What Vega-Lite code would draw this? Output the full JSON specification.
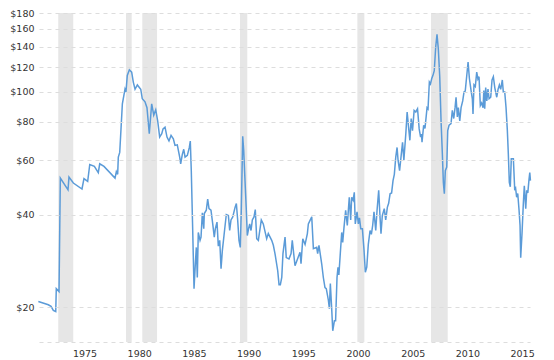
{
  "$schema": "https://vega.github.io/schema/vega-lite/v6.json",
  "width": 491,
  "height": 329,
  "autosize": "none",
  "padding": {"left": 39, "top": 13, "right": 24, "bottom": 18},
  "background": "white",
  "config": {
    "view": {"stroke": null},
    "axis": {"labelFont": "DejaVu Sans", "labelFontSize": 9.5, "labelColor": "#333"}
  },
  "layer": [
    {
      "data": {"values": [
        {"start": 1972.6, "end": 1973.97},
        {"start": 1978.79, "end": 1979.31},
        {"start": 1980.28, "end": 1981.63},
        {"start": 1989.21, "end": 1989.88},
        {"start": 1999.94, "end": 2000.58},
        {"start": 2006.67, "end": 2008.2}
      ]},
      "mark": {"type": "rect", "color": "#e6e6e6"},
      "encoding": {
        "x": {"field": "start", "type": "quantitative", "scale": {"domain": [1970.84, 2015.72], "nice": false, "zero": false}},
        "x2": {"field": "end"}
      }
    },
    {
      "data": {"values": [
        {"year": 1970.78, "price": 20.9}, {"year": 1971.69, "price": 20.4}, {"year": 1971.94, "price": 20.15},
        {"year": 1972.15, "price": 19.56}, {"year": 1972.37, "price": 19.4}, {"year": 1972.42, "price": 23.0},
        {"year": 1972.67, "price": 22.5}, {"year": 1972.79, "price": 52.5}, {"year": 1973.49, "price": 48.1},
        {"year": 1973.58, "price": 52.9}, {"year": 1973.98, "price": 50.6}, {"year": 1974.77, "price": 48.4},
        {"year": 1974.95, "price": 52.3}, {"year": 1975.29, "price": 51.2}, {"year": 1975.48, "price": 58.1},
        {"year": 1975.9, "price": 57.3}, {"year": 1976.26, "price": 54.7}, {"year": 1976.39, "price": 58.4},
        {"year": 1976.78, "price": 57.3}, {"year": 1977.79, "price": 52.5}, {"year": 1977.91, "price": 55.1},
        {"year": 1978.03, "price": 54.0}, {"year": 1978.09, "price": 61.4}, {"year": 1978.22, "price": 63.6},
        {"year": 1978.46, "price": 91.4}, {"year": 1978.7, "price": 102.0}, {"year": 1978.79, "price": 99.9},
        {"year": 1978.91, "price": 112.9}, {"year": 1979.1, "price": 117.8}, {"year": 1979.31, "price": 115.8},
        {"year": 1979.46, "price": 107.5}, {"year": 1979.62, "price": 101.9}, {"year": 1979.83, "price": 105.2},
        {"year": 1980.14, "price": 101.9}, {"year": 1980.28, "price": 94.9}, {"year": 1980.53, "price": 92.8},
        {"year": 1980.71, "price": 88.8}, {"year": 1980.92, "price": 73.1}, {"year": 1981.14, "price": 91.4},
        {"year": 1981.33, "price": 84.0}, {"year": 1981.51, "price": 87.4}, {"year": 1981.69, "price": 80.4},
        {"year": 1981.87, "price": 71.3}, {"year": 1982.06, "price": 73.1}, {"year": 1982.18, "price": 75.8},
        {"year": 1982.36, "price": 76.8}, {"year": 1982.54, "price": 71.3}, {"year": 1982.72, "price": 69.3},
        {"year": 1982.91, "price": 72.2}, {"year": 1983.12, "price": 70.4}, {"year": 1983.27, "price": 67.0},
        {"year": 1983.48, "price": 67.3}, {"year": 1983.7, "price": 61.4}, {"year": 1983.79, "price": 58.4},
        {"year": 1983.94, "price": 62.7}, {"year": 1984.07, "price": 65.1}, {"year": 1984.19, "price": 61.4},
        {"year": 1984.4, "price": 62.2}, {"year": 1984.58, "price": 66.0}, {"year": 1984.67, "price": 69.2},
        {"year": 1984.76, "price": 55.5}, {"year": 1984.89, "price": 35.5}, {"year": 1985.01, "price": 23.0},
        {"year": 1985.13, "price": 27.7}, {"year": 1985.22, "price": 31.3}, {"year": 1985.31, "price": 25.0},
        {"year": 1985.4, "price": 35.0}, {"year": 1985.56, "price": 33.0}, {"year": 1985.65, "price": 33.8},
        {"year": 1985.77, "price": 40.5}, {"year": 1985.9, "price": 36.0}, {"year": 1985.95, "price": 40.3},
        {"year": 1986.13, "price": 41.3}, {"year": 1986.26, "price": 44.9}, {"year": 1986.38, "price": 41.8},
        {"year": 1986.56, "price": 41.3}, {"year": 1986.72, "price": 37.3}, {"year": 1986.86, "price": 33.8},
        {"year": 1986.96, "price": 36.0}, {"year": 1987.11, "price": 37.8}, {"year": 1987.23, "price": 31.6},
        {"year": 1987.36, "price": 33.0}, {"year": 1987.48, "price": 26.7}, {"year": 1987.6, "price": 30.6},
        {"year": 1987.75, "price": 34.2}, {"year": 1987.96, "price": 40.0}, {"year": 1988.15, "price": 39.7},
        {"year": 1988.27, "price": 35.5}, {"year": 1988.39, "price": 38.4}, {"year": 1988.55, "price": 39.3},
        {"year": 1988.76, "price": 42.2}, {"year": 1988.88, "price": 43.4}, {"year": 1989.0, "price": 38.4},
        {"year": 1989.12, "price": 33.0}, {"year": 1989.24, "price": 31.3}, {"year": 1989.33, "price": 41.3},
        {"year": 1989.46, "price": 71.7}, {"year": 1989.55, "price": 64.6}, {"year": 1989.67, "price": 51.5},
        {"year": 1989.79, "price": 41.3}, {"year": 1989.88, "price": 34.2}, {"year": 1990.0, "price": 36.0},
        {"year": 1990.1, "price": 37.3}, {"year": 1990.22, "price": 35.5}, {"year": 1990.34, "price": 38.4},
        {"year": 1990.49, "price": 39.3}, {"year": 1990.61, "price": 41.5}, {"year": 1990.74, "price": 33.4},
        {"year": 1990.89, "price": 33.0}, {"year": 1991.16, "price": 38.4}, {"year": 1991.34, "price": 37.3},
        {"year": 1991.65, "price": 33.4}, {"year": 1991.8, "price": 34.7}, {"year": 1992.11, "price": 33.0},
        {"year": 1992.26, "price": 31.8}, {"year": 1992.41, "price": 29.9}, {"year": 1992.66, "price": 26.3},
        {"year": 1992.78, "price": 23.7}, {"year": 1992.9, "price": 23.7}, {"year": 1993.03, "price": 25.0},
        {"year": 1993.14, "price": 29.9}, {"year": 1993.33, "price": 33.8}, {"year": 1993.44, "price": 29.0},
        {"year": 1993.69, "price": 28.7}, {"year": 1993.88, "price": 29.9}, {"year": 1993.99, "price": 33.0},
        {"year": 1994.24, "price": 27.3}, {"year": 1994.36, "price": 28.0}, {"year": 1994.7, "price": 30.2},
        {"year": 1994.79, "price": 27.7}, {"year": 1994.95, "price": 33.4}, {"year": 1995.16, "price": 32.0},
        {"year": 1995.37, "price": 34.7}, {"year": 1995.46, "price": 37.3}, {"year": 1995.77, "price": 39.3},
        {"year": 1995.92, "price": 31.0}, {"year": 1996.22, "price": 31.3}, {"year": 1996.31, "price": 29.9},
        {"year": 1996.43, "price": 31.8}, {"year": 1996.68, "price": 27.7}, {"year": 1996.83, "price": 25.0},
        {"year": 1996.98, "price": 23.2}, {"year": 1997.1, "price": 23.0}, {"year": 1997.29, "price": 21.1},
        {"year": 1997.38, "price": 19.8}, {"year": 1997.47, "price": 23.9}, {"year": 1997.6, "price": 19.6},
        {"year": 1997.69, "price": 16.8}, {"year": 1997.84, "price": 18.1}, {"year": 1997.95, "price": 18.1},
        {"year": 1998.08, "price": 25.0}, {"year": 1998.17, "price": 27.0}, {"year": 1998.25, "price": 25.5},
        {"year": 1998.38, "price": 29.9}, {"year": 1998.51, "price": 35.0}, {"year": 1998.6, "price": 32.5},
        {"year": 1998.72, "price": 36.4}, {"year": 1998.87, "price": 41.3}, {"year": 1999.02, "price": 36.9},
        {"year": 1999.2, "price": 45.5}, {"year": 1999.33, "price": 38.4}, {"year": 1999.42, "price": 45.5},
        {"year": 1999.55, "price": 44.5}, {"year": 1999.66, "price": 47.2}, {"year": 1999.75, "price": 37.3},
        {"year": 1999.91, "price": 40.8}, {"year": 2000.03, "price": 37.3}, {"year": 2000.13, "price": 39.0},
        {"year": 2000.25, "price": 36.0}, {"year": 2000.4, "price": 36.0}, {"year": 2000.55, "price": 30.6},
        {"year": 2000.67, "price": 26.0}, {"year": 2000.8, "price": 27.0}, {"year": 2000.94, "price": 32.0},
        {"year": 2001.1, "price": 35.5}, {"year": 2001.22, "price": 34.5}, {"year": 2001.34, "price": 36.9},
        {"year": 2001.46, "price": 40.8}, {"year": 2001.62, "price": 35.5}, {"year": 2001.74, "price": 41.3},
        {"year": 2001.89, "price": 47.9}, {"year": 2002.01, "price": 39.3}, {"year": 2002.1, "price": 34.7},
        {"year": 2002.22, "price": 39.7}, {"year": 2002.4, "price": 41.8}, {"year": 2002.53, "price": 38.4},
        {"year": 2002.68, "price": 42.2}, {"year": 2002.8, "price": 43.5}, {"year": 2002.93, "price": 46.7},
        {"year": 2003.07, "price": 47.0}, {"year": 2003.2, "price": 51.5}, {"year": 2003.32, "price": 54.0},
        {"year": 2003.45, "price": 61.4}, {"year": 2003.57, "price": 66.0}, {"year": 2003.66, "price": 60.0},
        {"year": 2003.8, "price": 55.5}, {"year": 2004.07, "price": 68.6}, {"year": 2004.19, "price": 60.0},
        {"year": 2004.37, "price": 73.2}, {"year": 2004.49, "price": 85.9}, {"year": 2004.62, "price": 76.8},
        {"year": 2004.74, "price": 69.6}, {"year": 2004.86, "price": 81.9}, {"year": 2004.98, "price": 74.8},
        {"year": 2005.13, "price": 87.0}, {"year": 2005.28, "price": 86.0}, {"year": 2005.44, "price": 88.1},
        {"year": 2005.59, "price": 75.8}, {"year": 2005.72, "price": 71.3}, {"year": 2005.8, "price": 73.0},
        {"year": 2005.85, "price": 68.6}, {"year": 2006.0, "price": 77.9}, {"year": 2006.12, "price": 76.0},
        {"year": 2006.31, "price": 88.8}, {"year": 2006.4, "price": 88.0}, {"year": 2006.52, "price": 107.5},
        {"year": 2006.62, "price": 106.0}, {"year": 2006.74, "price": 110.4}, {"year": 2006.85, "price": 113.0},
        {"year": 2006.97, "price": 117.0}, {"year": 2007.1, "price": 139.6}, {"year": 2007.22, "price": 153.4},
        {"year": 2007.34, "price": 137.6}, {"year": 2007.47, "price": 111.9}, {"year": 2007.59, "price": 80.4},
        {"year": 2007.71, "price": 62.7}, {"year": 2007.8, "price": 50.8}, {"year": 2007.89, "price": 46.7},
        {"year": 2007.98, "price": 55.5}, {"year": 2008.11, "price": 57.0}, {"year": 2008.2, "price": 74.8},
        {"year": 2008.32, "price": 77.9}, {"year": 2008.5, "price": 78.9}, {"year": 2008.62, "price": 87.0},
        {"year": 2008.75, "price": 81.9}, {"year": 2008.87, "price": 88.8}, {"year": 2008.96, "price": 96.0},
        {"year": 2009.08, "price": 82.9}, {"year": 2009.17, "price": 88.8}, {"year": 2009.3, "price": 80.4},
        {"year": 2009.42, "price": 88.8}, {"year": 2009.57, "price": 93.4}, {"year": 2009.69, "price": 99.9},
        {"year": 2009.8, "price": 100.5}, {"year": 2009.94, "price": 112.9}, {"year": 2010.06, "price": 124.8},
        {"year": 2010.18, "price": 110.4}, {"year": 2010.33, "price": 101.0}, {"year": 2010.45, "price": 94.9},
        {"year": 2010.51, "price": 84.8}, {"year": 2010.6, "price": 105.3}, {"year": 2010.72, "price": 104.0},
        {"year": 2010.85, "price": 115.8}, {"year": 2010.96, "price": 110.0}, {"year": 2011.06, "price": 111.9},
        {"year": 2011.18, "price": 90.2}, {"year": 2011.3, "price": 92.0}, {"year": 2011.43, "price": 88.8},
        {"year": 2011.5, "price": 101.0}, {"year": 2011.58, "price": 88.1}, {"year": 2011.67, "price": 103.2},
        {"year": 2011.77, "price": 93.4}, {"year": 2011.88, "price": 102.0}, {"year": 2011.98, "price": 94.9},
        {"year": 2012.13, "price": 96.0}, {"year": 2012.25, "price": 109.2}, {"year": 2012.37, "price": 111.9},
        {"year": 2012.5, "price": 103.2}, {"year": 2012.68, "price": 96.0}, {"year": 2012.8, "price": 101.8},
        {"year": 2012.92, "price": 105.2}, {"year": 2013.04, "price": 101.8}, {"year": 2013.19, "price": 109.2},
        {"year": 2013.28, "price": 99.9}, {"year": 2013.41, "price": 99.9}, {"year": 2013.53, "price": 88.8},
        {"year": 2013.65, "price": 74.8}, {"year": 2013.74, "price": 62.7}, {"year": 2013.83, "price": 50.8},
        {"year": 2013.92, "price": 49.2}, {"year": 2014.01, "price": 60.6}, {"year": 2014.2, "price": 60.6},
        {"year": 2014.32, "price": 48.4}, {"year": 2014.4, "price": 48.8}, {"year": 2014.5, "price": 45.5},
        {"year": 2014.6, "price": 46.8}, {"year": 2014.72, "price": 41.3}, {"year": 2014.81, "price": 36.9},
        {"year": 2014.87, "price": 29.0}, {"year": 2014.99, "price": 34.7}, {"year": 2015.11, "price": 43.4},
        {"year": 2015.2, "price": 49.6}, {"year": 2015.33, "price": 41.8}, {"year": 2015.42, "price": 47.9},
        {"year": 2015.52, "price": 47.0}, {"year": 2015.62, "price": 51.5}, {"year": 2015.7, "price": 54.7},
        {"year": 2015.76, "price": 51.5}
      ]},
      "mark": {"type": "line", "color": "#5b9bd8", "strokeWidth": 1.5, "clip": false},
      "encoding": {
        "x": {
          "field": "year", "type": "quantitative",
          "scale": {"domain": [1970.84, 2015.72], "nice": false, "zero": false},
          "axis": {
            "title": null, "values": [1975, 1980, 1985, 1990, 1995, 2000, 2005, 2010, 2015],
            "format": "d", "grid": false, "ticks": false, "labelPadding": 6,
            "domain": true, "domainColor": "#dddddd", "domainDash": [4, 4], "domainWidth": 1
          }
        },
        "y": {
          "field": "price", "type": "quantitative",
          "scale": {"type": "log", "domain": [15.45, 180], "nice": false},
          "axis": {
            "title": null, "values": [20, 40, 60, 80, 100, 120, 140, 160, 180],
            "format": "$.0f", "grid": true, "gridColor": "#dddddd", "gridDash": [4, 4],
            "ticks": false, "domain": false, "labelPadding": 5, "zindex": 1
          }
        }
      }
    }
  ]
}
